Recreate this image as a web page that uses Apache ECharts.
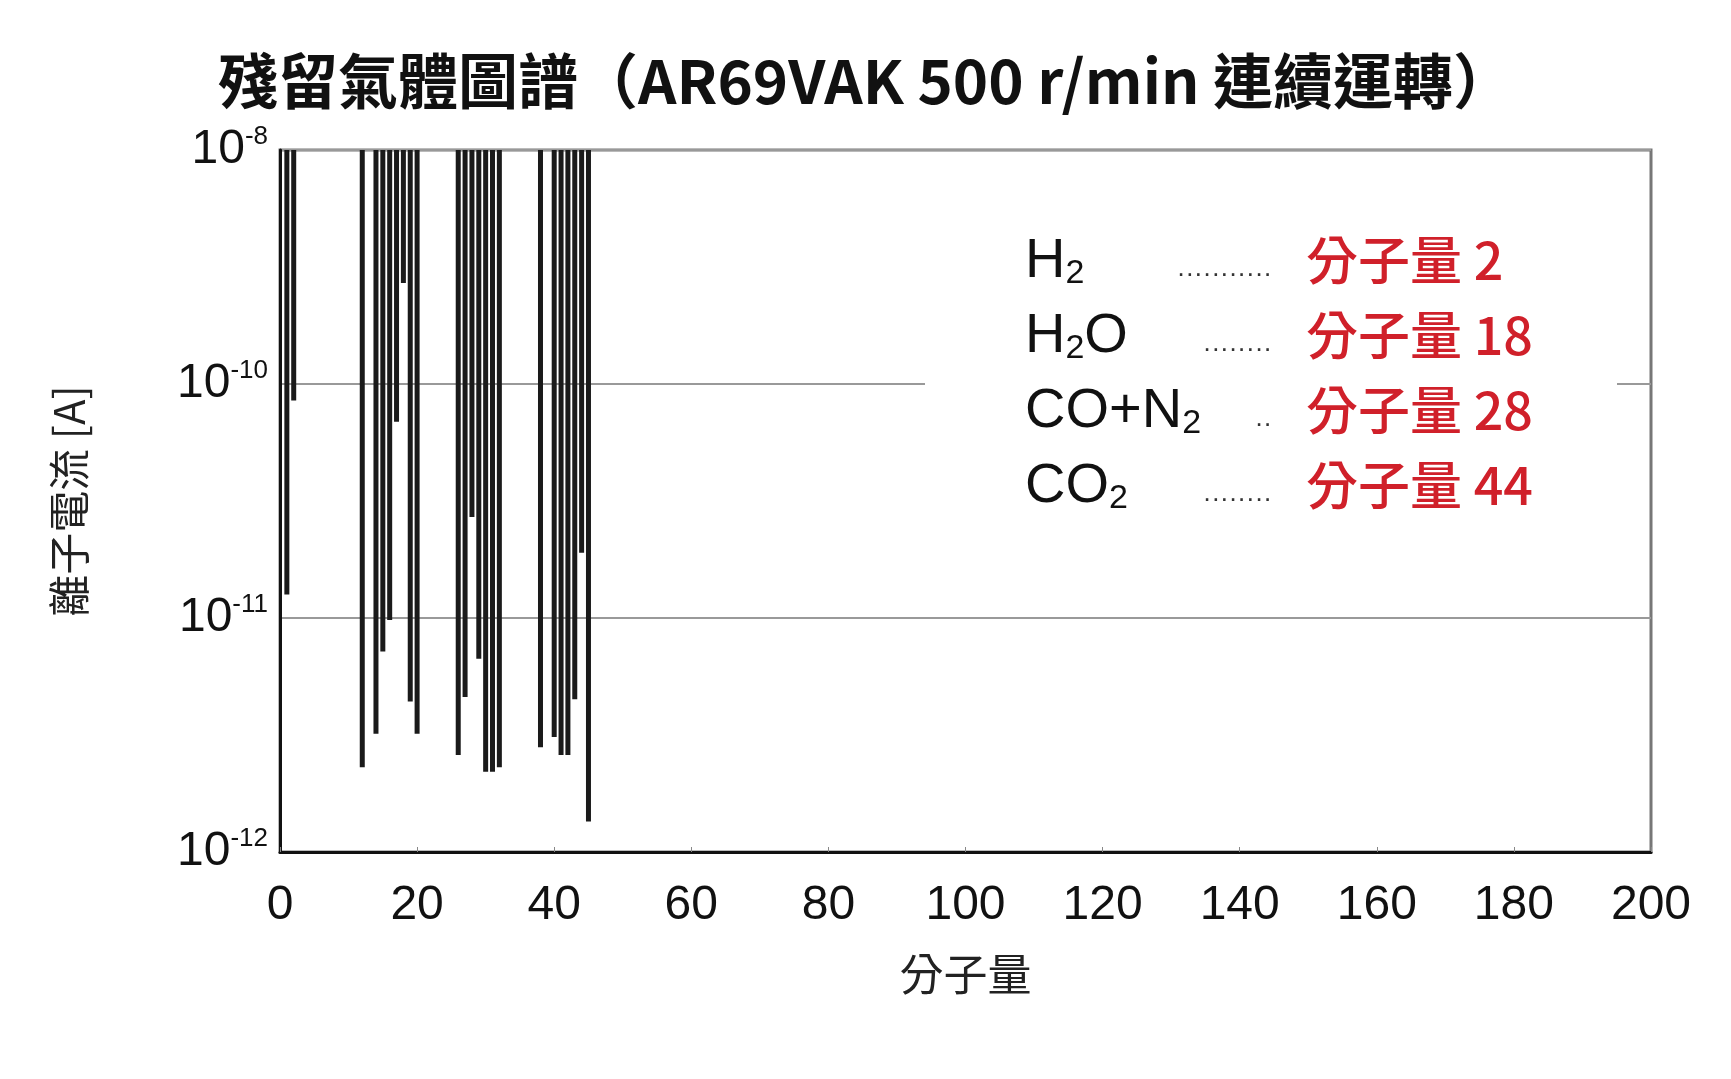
<!DOCTYPE html>
<html><head><meta charset="utf-8">
<script src="https://cdn.jsdelivr.net/npm/echarts@6/dist/echarts.min.js"></script>
<style>html,body{margin:0;background:#fff}#c{width:1731px;height:1079px}</style>
</head><body><div id="c"></div>
<script>
const massNumbers = [1,2,12,14,15,16,17,18,19,20,26,27,28,29,30,31,32,38,40,41,42,43,44,45];
const ionCurrents = [1.26e-11,8.5e-11,2.3e-12,3.2e-12,7.2e-12,9.8e-12,6.9e-11,2.7e-10,4.4e-12,3.2e-12,2.6e-12,4.6e-12,2.7e-11,6.7e-12,2.2e-12,2.2e-12,2.3e-12,2.8e-12,3.1e-12,2.6e-12,2.6e-12,4.5e-12,1.9e-11,1.35e-12];
const yTickLabels = {'-12':'-12','-11':'-11','-10':'-10','-9':'-8'};
const legendGas = ['H{s|2}','H{s|2}O','CO+N{s|2}','CO{s|2}'];
const legendDots = ['···········','········','··','········'];
const legendMass = ['分子量 2','分子量 18','分子量 28','分子量 44'];
const FONT = '"Noto Sans CJK TC","Noto Sans",sans-serif';
const chart = echarts.init(document.getElementById('c'));
const legendGraphics = [];
legendGas.forEach((g,i)=>{
  const y = 270 + i*75;
  legendGraphics.push({type:'text',left:1025,top:y-36,style:{text:g,font:'56px "Liberation Sans",sans-serif',fill:'#111',
    rich:{s:{fontSize:34,fill:'#111',padding:[24,0,0,0],fontFamily:'Liberation Sans'}}}});
  legendGraphics.push({type:'text',right:1731-1272,top:y-8,style:{text:legendDots[i],font:'26px "Liberation Sans",sans-serif',fill:'#333'}});
  legendGraphics.push({type:'text',left:1306,top:y-36,style:{text:legendMass[i],font:'500 52px '+FONT,fill:'#d0202a'}});
});
chart.setOption({
  animation:false,
  title:{text:'殘留氣體圖譜（AR69VAK 500 r/min 連續運轉）',left:'center',top:46,textStyle:{fontFamily:FONT,fontSize:60,fontWeight:'bold',color:'#111'}},
  grid:{left:280,right:80,top:150,bottom:227},
  xAxis:{type:'value',min:0,max:200,interval:20,name:'分子量',nameLocation:'middle',nameGap:100,
    nameTextStyle:{fontFamily:FONT,fontSize:44,color:'#222'},
    axisLine:{lineStyle:{color:'#111',width:3}},axisTick:{inside:true,length:5,lineStyle:{color:'#888'}},
    axisLabel:{fontSize:48,color:'#111',margin:30,fontFamily:'Liberation Sans'},splitLine:{show:false}},
  yAxis:{type:'value',min:-12,max:-9,interval:1,
    name:'離子電流 [A]',nameLocation:'middle',nameGap:190,nameRotate:90,
    nameTextStyle:{fontFamily:FONT,fontSize:42,color:'#222'},
    axisLine:{show:true,lineStyle:{color:'#111',width:3}},axisTick:{show:false},
    axisLabel:{margin:12,formatter:v=>'10{e|'+yTickLabels[String(v)]+'}',
      rich:{e:{fontSize:26,verticalAlign:'top',padding:[0,0,26,0],color:'#111',fontFamily:'Liberation Sans'}},
      fontSize:48,color:'#111',fontFamily:'Liberation Sans'},
    splitLine:{lineStyle:{color:'#999',width:2}}},
  graphic:[
    {type:'rect',shape:{x:280,y:150,width:1371,height:702},style:{fill:'none',stroke:'#777',lineWidth:3},z:-1,silent:true},
    {type:'rect',shape:{x:925,y:370,width:692,height:20},style:{fill:'#fff'},z:50},
    ...legendGraphics.map(g=>Object.assign(g,{z:60}))
  ],
  series:[{type:'bar',barWidth:5,itemStyle:{color:'#1a1a1a'},data:massNumbers.map((m,i)=>[m,Math.log10(ionCurrents[i])])}]
});
</script></body></html>
